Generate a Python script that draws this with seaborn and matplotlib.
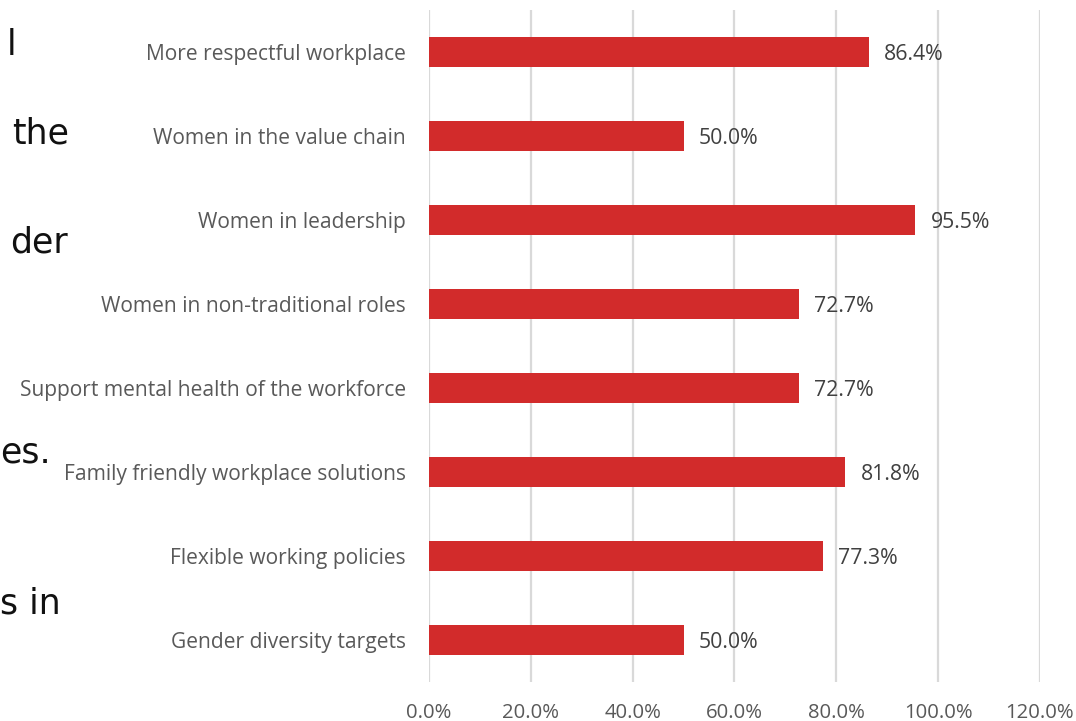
import matplotlib
matplotlib.use("Agg")
import matplotlib.pyplot as plt
import seaborn as sns
import pandas as pd
from matplotlib.ticker import PercentFormatter

categories = [
    "More respectful workplace",
    "Women in the value chain",
    "Women in leadership",
    "Women in non-traditional roles",
    "Support mental health of the workforce",
    "Family friendly workplace solutions",
    "Flexible working policies",
    "Gender diversity targets",
]
values = [86.4, 50.0, 95.5, 72.7, 72.7, 81.8, 77.3, 50.0]
x_ticks = [0, 20, 40, 60, 80, 100, 120]

# fragments of slide body text sitting to the left of the chart
side_text = ["l", "the", "der", "es.", "s in"]
side_pos = [(0.006, 0.937), (0.011, 0.815), (0.009, 0.664), (0.0, 0.373), (0.0, 0.163)]

df = pd.DataFrame({"category": categories, "value": values})

sns.set_theme(style="white")
plt.rcParams["font.family"] = ["Open Sans", "DejaVu Sans"]

fig = plt.figure(figsize=(10.76, 7.21), dpi=100)
ax = fig.add_axes([0.3987, 0.0541, 0.9665 - 0.3987, 0.9861 - 0.0541])

sns.barplot(data=df, x="value", y="category", orient="h", color="#D22B2B",
            width=0.36, saturation=1, ax=ax, linewidth=0)

ax.set_xlim(0, 120)
ax.set_ylim(len(categories) - 0.5, -0.5)
ax.set_xticks(x_ticks)
ax.xaxis.set_major_formatter(PercentFormatter(decimals=1))
ax.set_xlabel("")
ax.set_ylabel("")
ax.grid(axis="x", color="#D9D9D9", linewidth=1.6)
ax.set_axisbelow(True)
for s in ax.spines.values():
    s.set_visible(False)
ax.tick_params(axis="y", length=0, pad=16.5, labelsize=15.1, labelcolor="#595959")
ax.tick_params(axis="x", length=0, pad=15, labelsize=14.6, labelcolor="#595959")

for cont in ax.containers:
    anns = ax.bar_label(cont, labels=[f"{v:.1f}%" for v in values], padding=11,
                        fontsize=15.3, color="#404040")
    for a in anns:
        a.set_va("center_baseline")

for t, (x, y) in zip(side_text, side_pos):
    fig.text(x, y, t, fontsize=25, color="#111111", ha="left", va="center",
             family=["DejaVu Sans"])

fig.savefig("out.png", dpi=100)
